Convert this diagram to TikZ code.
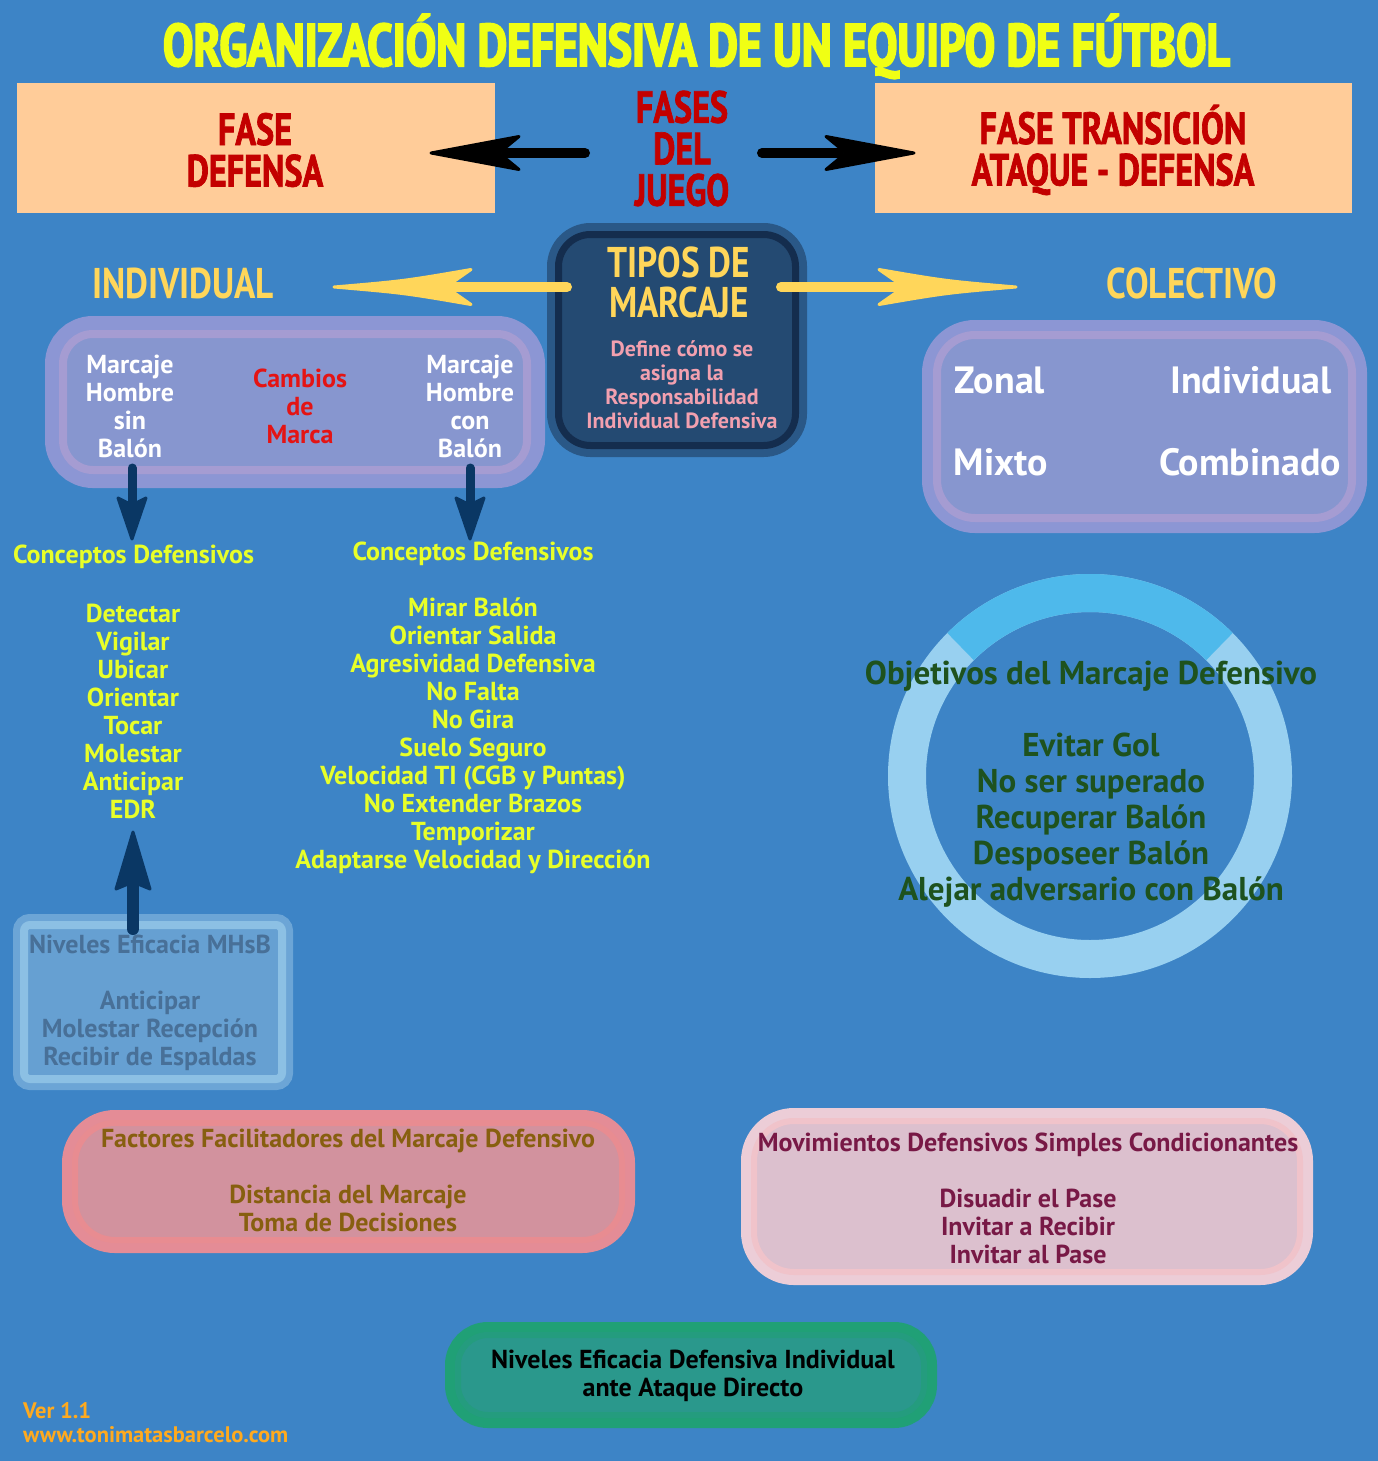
\documentclass[tikz,border=0pt]{standalone}
\usepackage{fontspec}
\usepackage{graphicx}
\setmainfont{PT Sans}
\newfontfamily\ftitle[FakeStretch=0.6,FakeBold=2.5]{PT Sans}
\newfontfamily\fred[FakeStretch=0.76,FakeBold=1.5]{PT Sans}
\newfontfamily\fhead[FakeStretch=0.82]{PT Sans}
\usetikzlibrary{arrows.meta}
\definecolor{bg}{RGB}{61,132,198}
\definecolor{peach}{RGB}{255,204,153}
\definecolor{redcap}{RGB}{195,0,0}
\definecolor{titley}{RGB}{240,255,20}
\definecolor{heady}{RGB}{255,214,90}
\definecolor{pinkt}{RGB}{242,160,175}
\definecolor{lime}{RGB}{232,255,40}
\definecolor{lavout}{RGB}{140,150,212}
\definecolor{lavband}{RGB}{165,156,210}
\definecolor{lavfill}{RGB}{135,150,207}
\definecolor{cambred}{RGB}{228,20,20}
\definecolor{navy}{RGB}{10,55,100}
\definecolor{tipout}{RGB}{42,88,135}
\definecolor{tipring}{RGB}{20,45,78}
\definecolor{tipfill}{RGB}{36,74,114}
\definecolor{mhout}{RGB}{108,165,214}
\definecolor{mhband}{RGB}{140,192,228}
\definecolor{mhfill}{RGB}{102,160,210}
\definecolor{mhtext}{RGB}{72,112,152}
\definecolor{ringb}{RGB}{78,185,235}
\definecolor{ringl}{RGB}{152,208,240}
\definecolor{greent}{RGB}{30,82,30}
\definecolor{faout}{RGB}{228,140,150}
\definecolor{faband}{RGB}{232,140,145}
\definecolor{fafill}{RGB}{210,146,158}
\definecolor{fatext}{RGB}{135,95,15}
\definecolor{moout}{RGB}{236,205,215}
\definecolor{moband}{RGB}{240,195,202}
\definecolor{mofill}{RGB}{220,192,206}
\definecolor{motext}{RGB}{120,25,70}
\definecolor{neout}{RGB}{32,160,118}
\definecolor{neband}{RGB}{36,156,126}
\definecolor{nefill}{RGB}{42,152,140}
\definecolor{vert}{RGB}{255,170,30}
\tikzset{
  txt/.style={font=\bfseries\fontsize{26}{28}\selectfont, align=center, inner sep=0pt},
  redcaps/.style={font=\fred\bfseries\fontsize{45}{41.5}\selectfont, align=center, inner sep=0pt, text=redcap},
  headcaps/.style={font=\fhead\bfseries\fontsize{43}{40}\selectfont, align=center, inner sep=0pt, text=heady},
  peachbox/.style={rectangle, fill=peach, inner sep=0pt},
  laybox/.style n args={5}{rectangle, inner sep=0pt, fill=#5, draw=#3, line width=#4, preaction={draw=#1, line width=#2}},
  shaft/.style={line width=#1, line cap=round},
  headfill/.style={fill=#1, draw=#1, line width=3pt, line join=round},
}
\begin{document}
\begin{tikzpicture}[x=1pt,y=-1pt]
\fill[bg] (0,0) rectangle (1378,1461);
\useasboundingbox (0,0) rectangle (1378,1461);

% title
\node[anchor=base, inner sep=0pt, text=titley] (title) at (696.5,66)
  {\resizebox{1067pt}{\height}{\ftitle\bfseries\fontsize{60}{60}\selectfont ORGANIZACIÓN DEFENSIVA DE UN EQUIPO DE FÚTBOL}};

% phases
\node[peachbox, minimum width=478pt, minimum height=130pt] (fdef) at (256,148) {};
\node[redcaps] (fdeft) at (255,150) {FASE\\DEFENSA};
\node[peachbox, minimum width=477pt, minimum height=130pt] (ftra) at (1113.5,148) {};
\node[redcaps] (ftrat) at (1113,150) {FASE TRANSICIÓN\\ATAQUE - DEFENSA};
\node[redcaps] (fases) at (682,148.5) {FASES\\DEL\\JUEGO};
\coordinate (bla) at (585,153);
\coordinate (blb) at (431,153);
\coordinate (bra) at (762,153);
\coordinate (brb) at (914,153);
\draw[shaft=10pt, black, shorten >=75pt] (bla) -- (blb);
\filldraw[headfill=black] (blb) -- ++(88,-16.5) -- ++(-20,16.5) -- ++(20,16.5) -- cycle;
\draw[shaft=10pt, black, shorten >=75pt] (bra) -- (brb);
\filldraw[headfill=black] (brb) -- ++(-88,-16.5) -- ++(20,16.5) -- ++(-20,16.5) -- cycle;

% tipos de marcaje
\node[laybox={tipout}{23pt}{tipring}{7pt}{tipfill}, rounded corners=32pt, minimum width=237pt, minimum height=211pt] (tipos) at (677,340) {};
\node[headcaps] (tipost) at (679,282) {TIPOS DE\\MARCAJE};
\node[font=\bfseries\fontsize{22}{24}\selectfont, align=center, inner sep=0pt, text=pinkt] (define) at (682,385)
  {Define cómo se\\asigna la\\Responsabilidad\\Individual Defensiva};

\node[headcaps] (indiv) at (183,283) {INDIVIDUAL};
\node[headcaps] (colec) at (1192,283) {COLECTIVO};
\coordinate (yla) at (567,287);
\coordinate (ylb) at (334,287);
\coordinate (yra) at (781,287);
\coordinate (yrb) at (1016,287);
\draw[shaft=10pt, heady, shorten >=110pt] (yla) -- (ylb);
\filldraw[headfill=heady] (ylb) .. controls ++(70,-6) .. ++(137,-17.5) -- ++(-25,17.5) -- ++(25,17.5) .. controls ++(-67,-11.5) .. cycle;
\draw[shaft=10pt, heady, shorten >=110pt] (yra) -- (yrb);
\filldraw[headfill=heady] (yrb) .. controls ++(-70,-6) .. ++(-137,-17.5) -- ++(25,17.5) -- ++(-25,17.5) .. controls ++(67,-11.5) .. cycle;

% individual box
\node[laybox={lavout}{36pt}{lavband}{8pt}{lavfill}, rounded corners=30pt, minimum width=464pt, minimum height=136pt] (lbox) at (295,402) {};
\node[txt, text=white] (mhsb) at (130,406) {Marcaje\\Hombre\\sin\\Balón};
\node[txt, text=cambred] (camb) at (300,406) {Cambios\\de\\Marca};
\node[txt, text=white] (mhcb) at (470,406) {Marcaje\\Hombre\\con\\Balón};

\coordinate (dla) at (132,468);
\coordinate (dlb) at (132,539);
\coordinate (dra) at (470,468);
\coordinate (drb) at (470,539);
\draw[shaft=9pt, navy, shorten >=36pt] (dla) -- (dlb);
\filldraw[headfill=navy] (dlb) -- ++(-14,-41) -- ++(14,7) -- ++(14,-7) -- cycle;
\draw[shaft=9pt, navy, shorten >=36pt] (dra) -- (drb);
\filldraw[headfill=navy] (drb) -- ++(-14,-41) -- ++(14,7) -- ++(14,-7) -- cycle;

\node[txt, text=lime] (concl) at (133.5,557) {Conceptos Defensivos};
\node[txt, text=lime] (concr) at (473,554) {Conceptos Defensivos};
\node[txt, text=lime] (listl) at (133,711) {Detectar\\Vigilar\\Ubicar\\Orientar\\Tocar\\Molestar\\Anticipar\\EDR};
\node[txt, text=lime] (listr) at (473,736) {Mirar Balón\\Orientar Salida\\Agresividad Defensiva\\No Falta\\No Gira\\Suelo Seguro\\Velocidad TI (CGB y Puntas)\\No Extender Brazos\\Temporizar\\Adaptarse Velocidad y Dirección};

% niveles MHsB
\node[laybox={mhout}{22pt}{mhband}{8pt}{mhfill}, rounded corners=6pt, minimum width=258pt, minimum height=154pt] (mhbox) at (153,1002) {};
\node[txt, text=mhtext] (mhboxt) at (150,1003) {Niveles Eficacia MHsB\\[28pt]Anticipar\\Molestar Recepción\\Recibir de Espaldas};
\coordinate (upa) at (133,929);
\coordinate (upb) at (133,832);
\draw[shaft=12pt, navy, shorten >=50pt] (upa) -- (upb);
\filldraw[headfill=navy] (upb) -- ++(-17,57) -- ++(17,-7) -- ++(17,7) -- cycle;

% colectivo box
\node[laybox={lavout}{30pt}{lavband}{8pt}{lavfill}, rounded corners=38pt, minimum width=415pt, minimum height=183pt] (rbox) at (1144.5,426.5) {};
\node[font=\bfseries\fontsize{38}{40}\selectfont, inner sep=0pt, text=white] (zonal) at (1000,380) {Zonal};
\node[font=\bfseries\fontsize{38}{40}\selectfont, inner sep=0pt, text=white] (indc) at (1251,380) {Individual};
\node[font=\bfseries\fontsize{38}{40}\selectfont, inner sep=0pt, text=white] (mixto) at (1001,462) {Mixto};
\node[font=\bfseries\fontsize{38}{40}\selectfont, inner sep=0pt, text=white] (comb) at (1250,462) {Combinado};

% ring
\coordinate (rc) at (1090,776);
\draw[line width=38pt, ringl] (rc) circle (183);
\draw[line width=38pt, ringb] (rc) ++(225:183) arc (225:315:183);
\node[font=\bfseries\fontsize{33}{36}\selectfont, align=center, inner sep=0pt, text=greent] (obj) at (1091,784)
  {Objetivos del Marcaje Defensivo\\[36pt]Evitar Gol\\No ser superado\\Recuperar Balón\\Desposeer Balón\\Alejar adversario con Balón};

% factores
\node[laybox={faout}{26pt}{faband}{6pt}{fafill}, rounded corners=40pt, minimum width=547pt, minimum height=117pt] (fbox) at (348.5,1181.5) {};
\node[txt, text=fatext] (fboxt) at (348,1180) {Factores Facilitadores del Marcaje Defensivo\\[28pt]Distancia del Marcaje\\Toma de Decisiones};

% movimientos
\node[laybox={moout}{26pt}{moband}{6pt}{mofill}, rounded corners=40pt, minimum width=546pt, minimum height=151pt] (mbox) at (1027,1196.5) {};
\node[txt, text=motext] (mboxt) at (1028,1198) {Movimientos Defensivos Simples Condicionantes\\[28pt]Disuadir el Pase\\Invitar a Recibir\\Invitar al Pase};

% niveles eficacia defensiva
\node[laybox={neout}{26pt}{neband}{6pt}{nefill}, rounded corners=30pt, minimum width=466pt, minimum height=80pt] (nbox) at (691,1375) {};
\node[txt, text=black] (nboxt) at (693,1376) {Niveles Eficacia Defensiva Individual\\ante Ataque Directo};

% version
\node[font=\bfseries\fontsize{22.5}{24}\selectfont, align=left, anchor=west, inner sep=0pt, text=vert] (ver) at (23,1423) {Ver 1.1\\www.tonimatasbarcelo.com};
\end{tikzpicture}
\end{document}
